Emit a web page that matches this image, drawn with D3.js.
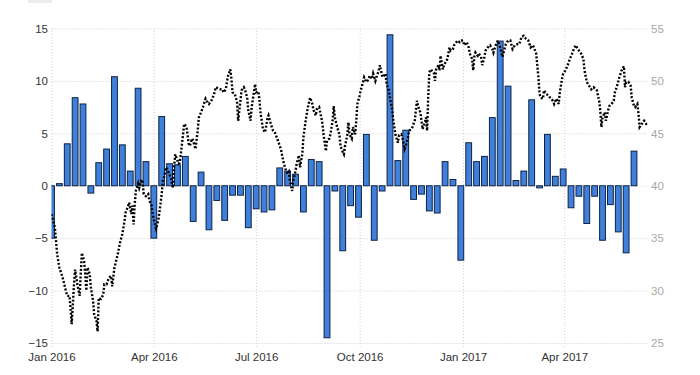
<!DOCTYPE html>
<html>
<head>
<meta charset="utf-8">
<script src="https://cdn.jsdelivr.net/npm/d3@7"></script>
<style>
  body { margin: 0; background: #fff; }
  svg { display: block; font-family: "Liberation Sans", Arial, sans-serif; }
</style>
</head>
<body>
<div id="chart"></div>
<script>
// Weekly change (left axis), dated by week
var weekDates = [
	"2016-01-01", "2016-01-08", "2016-01-15", "2016-01-22", "2016-01-29", "2016-02-05", "2016-02-12", "2016-02-19",
	"2016-02-26", "2016-03-04", "2016-03-11", "2016-03-18", "2016-03-25", "2016-04-01", "2016-04-08", "2016-04-15",
	"2016-04-22", "2016-04-29", "2016-05-06", "2016-05-13", "2016-05-20", "2016-05-27", "2016-06-03", "2016-06-10",
	"2016-06-17", "2016-06-24", "2016-07-01", "2016-07-08", "2016-07-15", "2016-07-22", "2016-07-29", "2016-08-05",
	"2016-08-12", "2016-08-19", "2016-08-26", "2016-09-02", "2016-09-09", "2016-09-16", "2016-09-23", "2016-09-30",
	"2016-10-07", "2016-10-14", "2016-10-21", "2016-10-28", "2016-11-04", "2016-11-11", "2016-11-18", "2016-11-25",
	"2016-12-02", "2016-12-09", "2016-12-16", "2016-12-23", "2016-12-30", "2017-01-06", "2017-01-13", "2017-01-20",
	"2017-01-27", "2017-02-03", "2017-02-10", "2017-02-17", "2017-02-24", "2017-03-03", "2017-03-10", "2017-03-17",
	"2017-03-24", "2017-03-31", "2017-04-07", "2017-04-14", "2017-04-21", "2017-04-28", "2017-05-05", "2017-05-12",
	"2017-05-19", "2017-05-26", "2017-06-02"
];
var weekChange = [
	-5.0, 0.2, 4.0, 8.4, 7.8, -0.7, 2.2, 3.5,
	10.4, 3.9, 1.4, 9.3, 2.3, -5.0, 6.6, 2.1,
	2.0, 2.8, -3.4, 1.3, -4.2, -1.4, -3.3, -0.9,
	-0.9, -4.0, -2.2, -2.5, -2.3, 1.7, 1.4, 1.1,
	-2.5, 2.5, 2.3, -14.5, -0.5, -6.2, -1.9, -3.0,
	4.9, -5.2, -0.5, 14.4, 2.4, 5.3, -1.3, -0.8,
	-2.4, -2.6, 2.3, 0.6, -7.1, 4.1, 2.3, 2.8,
	6.5, 13.8, 9.5, 0.5, 1.4, 8.2, -0.2, 4.9,
	0.9, 1.6, -2.1, -1.0, -3.6, -1.0, -5.2, -1.8,
	-4.4, -6.4, 3.3
];

// Price (right axis)
var priceSeries = [
	["2016-01-01", 37.3], ["2016-01-04", 36.0], ["2016-01-06", 33.5], ["2016-01-08", 32.2], ["2016-01-11", 31.2],
	["2016-01-13", 30.3], ["2016-01-15", 29.5], ["2016-01-17", 29.5], ["2016-01-19", 26.8], ["2016-01-21", 30.6],
	["2016-01-22", 32.0], ["2016-01-24", 30.6], ["2016-01-26", 29.5], ["2016-01-27", 31.6], ["2016-01-28", 33.6],
	["2016-01-30", 32.8], ["2016-01-31", 31.6], ["2016-02-01", 30.0], ["2016-02-02", 32.2], ["2016-02-04", 31.6],
	["2016-02-05", 30.3], ["2016-02-07", 29.0], ["2016-02-08", 27.7], ["2016-02-10", 27.1], ["2016-02-11", 26.1],
	["2016-02-12", 29.3], ["2016-02-14", 29.2], ["2016-02-16", 29.6], ["2016-02-17", 30.6], ["2016-02-19", 30.6],
	["2016-02-21", 31.2], ["2016-02-23", 31.4], ["2016-02-24", 30.4], ["2016-02-26", 32.2], ["2016-02-29", 33.5],
	["2016-03-02", 34.6], ["2016-03-04", 35.4], ["2016-03-06", 36.7], ["2016-03-07", 37.5], ["2016-03-09", 38.0],
	["2016-03-10", 38.4], ["2016-03-12", 37.3], ["2016-03-13", 38.1], ["2016-03-14", 36.3], ["2016-03-15", 38.2],
	["2016-03-16", 39.5], ["2016-03-18", 40.2], ["2016-03-19", 39.8], ["2016-03-21", 40.6], ["2016-03-22", 40.3],
	["2016-03-23", 39.2], ["2016-03-25", 39.0], ["2016-03-27", 39.2], ["2016-03-28", 38.6], ["2016-03-30", 38.1],
	["2016-03-31", 37.3], ["2016-04-02", 36.3], ["2016-04-03", 35.9], ["2016-04-05", 36.7], ["2016-04-06", 37.5],
	["2016-04-08", 39.2], ["2016-04-09", 40.5], ["2016-04-10", 40.8], ["2016-04-12", 41.75], ["2016-04-14", 41.3],
	["2016-04-16", 40.8], ["2016-04-18", 39.8], ["2016-04-19", 41.75], ["2016-04-20", 43.0], ["2016-04-21", 42.7],
	["2016-04-23", 42.1], ["2016-04-24", 42.2], ["2016-04-25", 43.0], ["2016-04-27", 44.9], ["2016-04-28", 45.9],
	["2016-04-30", 45.6], ["2016-05-01", 44.9], ["2016-05-02", 44.0], ["2016-05-03", 43.8], ["2016-05-05", 44.5],
	["2016-05-06", 44.3], ["2016-05-08", 43.5], ["2016-05-10", 45.25], ["2016-05-11", 46.5], ["2016-05-13", 47.0],
	["2016-05-15", 47.6], ["2016-05-17", 48.3], ["2016-05-18", 48.1], ["2016-05-20", 47.8], ["2016-05-22", 48.1],
	["2016-05-23", 48.3], ["2016-05-25", 48.9], ["2016-05-26", 49.4], ["2016-05-28", 49.3], ["2016-05-30", 49.2],
	["2016-06-01", 49.2], ["2016-06-02", 48.9], ["2016-06-04", 49.2], ["2016-06-05", 49.9], ["2016-06-06", 50.5],
	["2016-06-08", 51.1], ["2016-06-09", 50.2], ["2016-06-10", 48.9], ["2016-06-12", 48.75], ["2016-06-14", 48.0],
	["2016-06-15", 46.2], ["2016-06-17", 48.1], ["2016-06-18", 49.1], ["2016-06-20", 49.4], ["2016-06-21", 49.2],
	["2016-06-23", 48.4], ["2016-06-24", 47.2], ["2016-06-25", 46.7], ["2016-06-26", 46.2], ["2016-06-27", 47.5],
	["2016-06-29", 48.9], ["2016-06-30", 49.7], ["2016-07-01", 48.9], ["2016-07-03", 49.0], ["2016-07-04", 48.1],
	["2016-07-05", 46.8], ["2016-07-06", 46.2], ["2016-07-07", 45.4], ["2016-07-09", 45.1], ["2016-07-11", 46.4],
	["2016-07-12", 46.7], ["2016-07-14", 45.9], ["2016-07-16", 45.25], ["2016-07-18", 45.0], ["2016-07-20", 44.4],
	["2016-07-23", 43.5], ["2016-07-25", 42.4], ["2016-07-27", 41.6], ["2016-07-29", 41.1], ["2016-07-30", 41.3],
	["2016-07-31", 40.5], ["2016-08-02", 39.5], ["2016-08-03", 40.5], ["2016-08-05", 41.4], ["2016-08-06", 42.1],
	["2016-08-08", 42.9], ["2016-08-09", 41.75], ["2016-08-11", 43.0], ["2016-08-12", 44.6], ["2016-08-14", 46.2],
	["2016-08-16", 47.5], ["2016-08-18", 48.4], ["2016-08-20", 47.8], ["2016-08-21", 47.2], ["2016-08-23", 46.7],
	["2016-08-24", 47.3], ["2016-08-26", 47.5], ["2016-08-27", 47.0], ["2016-08-29", 45.9], ["2016-08-30", 44.8],
	["2016-09-01", 43.3], ["2016-09-02", 44.3], ["2016-09-04", 44.5], ["2016-09-05", 44.9], ["2016-09-07", 46.2],
	["2016-09-08", 47.6], ["2016-09-09", 46.5], ["2016-09-11", 45.6], ["2016-09-13", 44.9], ["2016-09-14", 43.8],
	["2016-09-16", 43.2], ["2016-09-17", 43.0], ["2016-09-18", 43.8], ["2016-09-20", 44.8], ["2016-09-21", 46.05],
	["2016-09-22", 44.9], ["2016-09-24", 44.5], ["2016-09-25", 45.6], ["2016-09-27", 44.9], ["2016-09-28", 46.2],
	["2016-09-29", 47.8], ["2016-10-01", 48.6], ["2016-10-02", 49.1], ["2016-10-04", 49.9], ["2016-10-05", 50.35],
	["2016-10-07", 49.9], ["2016-10-08", 50.0], ["2016-10-10", 50.5], ["2016-10-12", 50.2], ["2016-10-13", 50.7],
	["2016-10-15", 50.0], ["2016-10-16", 50.35], ["2016-10-18", 51.0], ["2016-10-19", 51.5], ["2016-10-21", 50.5],
	["2016-10-22", 50.35], ["2016-10-24", 50.7], ["2016-10-25", 49.7], ["2016-10-27", 49.1], ["2016-10-28", 48.4],
	["2016-10-30", 47.2], ["2016-10-31", 46.2], ["2016-11-02", 44.8], ["2016-11-04", 44.1], ["2016-11-05", 44.8],
	["2016-11-07", 44.9], ["2016-11-08", 44.6], ["2016-11-10", 43.5], ["2016-11-11", 43.8], ["2016-11-13", 44.6],
	["2016-11-14", 45.25], ["2016-11-16", 45.4], ["2016-11-17", 45.6], ["2016-11-19", 46.2], ["2016-11-20", 47.2],
	["2016-11-21", 48.1], ["2016-11-22", 47.6], ["2016-11-24", 47.0], ["2016-11-25", 46.2], ["2016-11-26", 45.4],
	["2016-11-28", 46.05], ["2016-11-29", 46.5], ["2016-11-30", 45.25], ["2016-12-01", 48.5], ["2016-12-02", 50.8],
	["2016-12-03", 51.1], ["2016-12-04", 51.0], ["2016-12-06", 50.8], ["2016-12-07", 50.0], ["2016-12-08", 51.1],
	["2016-12-10", 51.5], ["2016-12-11", 51.0], ["2016-12-12", 52.4], ["2016-12-14", 51.1], ["2016-12-15", 51.5],
	["2016-12-17", 51.9], ["2016-12-18", 52.1], ["2016-12-20", 53.2], ["2016-12-21", 52.9], ["2016-12-23", 53.05],
	["2016-12-24", 53.4], ["2016-12-26", 53.7], ["2016-12-27", 53.85], ["2016-12-29", 53.7], ["2016-12-30", 53.85],
	["2017-01-01", 53.85], ["2017-01-02", 53.4], ["2017-01-04", 53.7], ["2017-01-05", 53.5], ["2017-01-06", 53.2],
	["2017-01-07", 52.6], ["2017-01-09", 52.1], ["2017-01-10", 51.0], ["2017-01-11", 52.3], ["2017-01-12", 52.7],
	["2017-01-14", 52.4], ["2017-01-15", 52.6], ["2017-01-17", 52.3], ["2017-01-18", 51.5], ["2017-01-20", 52.3],
	["2017-01-21", 52.9], ["2017-01-23", 53.2], ["2017-01-25", 53.4], ["2017-01-27", 53.05], ["2017-01-28", 52.7],
	["2017-01-30", 53.4], ["2017-02-01", 53.85], ["2017-02-03", 53.2], ["2017-02-05", 52.3], ["2017-02-06", 52.7],
	["2017-02-08", 53.5], ["2017-02-10", 53.85], ["2017-02-12", 53.85], ["2017-02-14", 53.05], ["2017-02-16", 53.4],
	["2017-02-18", 53.5], ["2017-02-20", 53.5], ["2017-02-22", 54.2], ["2017-02-24", 54.3], ["2017-02-26", 54.0],
	["2017-02-28", 53.85], ["2017-03-02", 53.2], ["2017-03-04", 53.4], ["2017-03-05", 53.2], ["2017-03-07", 52.6],
	["2017-03-08", 51.5], ["2017-03-09", 50.35], ["2017-03-10", 48.75], ["2017-03-11", 48.4], ["2017-03-13", 48.3],
	["2017-03-14", 49.1], ["2017-03-16", 48.75], ["2017-03-18", 48.6], ["2017-03-20", 48.3], ["2017-03-22", 48.1],
	["2017-03-23", 47.8], ["2017-03-25", 48.3], ["2017-03-27", 47.8], ["2017-03-28", 48.9], ["2017-03-30", 50.2],
	["2017-03-31", 50.7], ["2017-04-02", 51.0], ["2017-04-04", 51.5], ["2017-04-06", 52.1], ["2017-04-08", 52.6],
	["2017-04-09", 52.9], ["2017-04-11", 53.4], ["2017-04-13", 53.05], ["2017-04-14", 52.9], ["2017-04-16", 52.6],
	["2017-04-18", 52.1], ["2017-04-19", 51.0], ["2017-04-21", 49.9], ["2017-04-23", 49.55], ["2017-04-25", 49.2],
	["2017-04-27", 49.4], ["2017-04-29", 49.2], ["2017-04-30", 49.1], ["2017-05-02", 48.1], ["2017-05-03", 47.2],
	["2017-05-04", 45.6], ["2017-05-05", 46.5], ["2017-05-07", 47.0], ["2017-05-08", 46.2], ["2017-05-10", 47.2],
	["2017-05-11", 47.6], ["2017-05-13", 47.8], ["2017-05-15", 48.1], ["2017-05-16", 48.9], ["2017-05-18", 49.55],
	["2017-05-20", 50.35], ["2017-05-22", 51.0], ["2017-05-24", 51.4], ["2017-05-25", 49.4], ["2017-05-26", 49.9],
	["2017-05-28", 49.9], ["2017-05-30", 49.55], ["2017-05-31", 48.4], ["2017-06-02", 47.6], ["2017-06-03", 47.5],
	["2017-06-05", 47.8], ["2017-06-06", 46.85], ["2017-06-07", 45.6], ["2017-06-09", 45.9], ["2017-06-11", 46.2],
	["2017-06-12", 46.05], ["2017-06-14", 45.7]
];

var leftTicks = [-15, -10, -5, 0, 5, 10, 15];
var rightTicks = [25, 30, 35, 40, 45, 50, 55];
var xTickDates = ["2016-01-01", "2016-04-01", "2016-07-01", "2016-10-01", "2017-01-01", "2017-04-01"];

var width = 700;
var height = 375;
var plot = { left: 51.5, right: 647.5, top: 28.5, bottom: 343 };
var FONT_SIZE = "11.5px";

var parse = d3.timeParse("%Y-%m-%d");

var svg = d3.select("#chart").append("svg")
	.attr("width", width)
	.attr("height", height);

// faint strip at the top left
svg.append("rect")
	.attr("x", 28).attr("y", 0)
	.attr("width", 24).attr("height", 3)
	.attr("fill", "#ececec");

// Scales
var x = d3.scaleTime()
	.domain([parse("2016-01-01"), parse("2017-06-14")])
	.range([plot.left, plot.right]);
var yLeft = d3.scaleLinear()
	.domain([-15, 15])
	.range([plot.bottom, plot.top]);
var yRight = d3.scaleLinear()
	.domain([25, 55])
	.range([plot.bottom, plot.top]);

// Horizontal grid
svg.append("g")
	.attr("class", "grid-h")
	.attr("transform", "translate(" + plot.left + ",0)")
	.call(d3.axisLeft(yLeft).tickValues(leftTicks).tickSize(-(plot.right - plot.left)).tickFormat(""))
	.call(function(g) {
		g.select(".domain").remove();
		g.selectAll("line")
			.attr("stroke", "#cfcfcf")
			.attr("stroke-dasharray", "1,2");
	});

// Vertical grid + x labels
var xAxis = d3.axisBottom(x)
	.tickValues(xTickDates.map(parse))
	.tickSize(-(plot.bottom - plot.top) - 4)
	.tickPadding(6)
	.tickFormat(d3.timeFormat("%b %Y"));

svg.append("g")
	.attr("class", "x-axis")
	.attr("transform", "translate(0," + (plot.bottom + 4) + ")")
	.call(xAxis)
	.call(function(g) {
		g.select(".domain").remove();
		g.selectAll("line")
			.attr("stroke", "#cfcfcf")
			.attr("stroke-dasharray", "1,2");
		g.selectAll("text")
			.attr("fill", "#333")
			.attr("font-size", FONT_SIZE);
	});

// Left axis labels
svg.append("g")
	.attr("transform", "translate(" + (plot.left - 3.5) + ",0)")
	.call(d3.axisLeft(yLeft).tickValues(leftTicks).tickSize(0).tickPadding(0))
	.call(function(g) {
		g.select(".domain").remove();
		g.selectAll("text")
			.attr("fill", "#333")
			.attr("font-size", FONT_SIZE);
	});

// Right axis labels
svg.append("g")
	.attr("transform", "translate(" + (plot.right + 3.5) + ",0)")
	.call(d3.axisRight(yRight).tickValues(rightTicks).tickSize(0).tickPadding(0))
	.call(function(g) {
		g.select(".domain").remove();
		g.selectAll("text")
			.attr("fill", "#a8a8a8")
			.attr("font-size", FONT_SIZE);
	});

// Clip to plot area
svg.append("clipPath")
	.attr("id", "plot-clip")
	.append("rect")
	.attr("x", plot.left)
	.attr("y", 0)
	.attr("width", plot.right - plot.left)
	.attr("height", height);

var area = svg.append("g").attr("clip-path", "url(#plot-clip)");

// Bars
var barW = 5.8;
var bars = weekDates.map(function(d, i) {
	return { date: parse(d), value: weekChange[i] };
});

area.selectAll(".bar")
	.data(bars)
	.enter().append("rect")
	.attr("class", "bar")
	.attr("x", function(d) { return x(d.date) - barW / 2; })
	.attr("y", function(d) { return yLeft(Math.max(0, d.value)); })
	.attr("width", barW)
	.attr("height", function(d) { return Math.abs(yLeft(d.value) - yLeft(0)); })
	.attr("fill", "#3f80da")
	.attr("stroke", "#0c2247")
	.attr("stroke-width", 1);

// Price line
var line = d3.line()
	.x(function(d) { return x(parse(d[0])); })
	.y(function(d) { return yRight(d[1]); });

area.append("path")
	.datum(priceSeries)
	.attr("d", line)
	.attr("fill", "none")
	.attr("stroke", "#000")
	.attr("stroke-width", 2.4)
	.attr("stroke-dasharray", "2,1.8");
</script>
</body>
</html>
